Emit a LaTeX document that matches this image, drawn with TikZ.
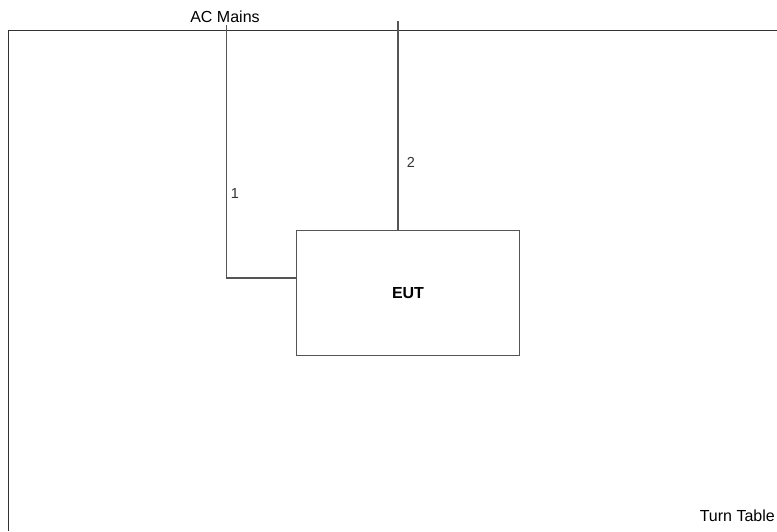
\documentclass[tikz,border=0pt]{standalone}
\usepackage{fontspec}
\setmainfont{Liberation Sans}
\usetikzlibrary{positioning}
\definecolor{wirecol}{HTML}{555555}
\tikzset{
  eutbox/.style={draw=wirecol, line width=1.3pt, fill=white, inner sep=0pt,
    minimum width=223pt, minimum height=125pt, align=center,
    font=\fontsize{16}{18}\selectfont\bfseries},
  wire/.style={draw=wirecol, line width=1.2pt},
  table/.style={draw=black!80, line width=1.4pt},
  lab/.style={inner sep=0pt, text=black, font=\fontsize{16}{18}\selectfont},
  numlab/.style={lab, text=black!80, font=\fontsize{14.5}{16}\selectfont}}
\begin{document}
\begin{tikzpicture}[x=1pt, y=-1pt]
    \useasboundingbox (0,0) rectangle (777,531);
    % turn table edge
    \draw[table] (8.5,531) -- (8.5,30.5) -- (777,30.5);
    \node[lab, anchor=east] (tt) at (775,516) {Turn Table};
    \node[eutbox] (eut) at (408,293) {EUT};
    \node[lab] (mains) at (225,17) {AC Mains};
    \coordinate (mains1) at (226.5,25);
    \coordinate (bend1)  at (226.5,278);
    \coordinate (mains2) at (398,21);
    \draw[wire] (mains1) -- (bend1) -- (bend1 -| eut.west);
    \draw[wire] (mains2) -- (mains2 |- eut.north);
    \node[numlab] (n1) at (235,194) {1};
    \node[numlab] (n2) at (411,162) {2};
\end{tikzpicture}
\end{document}
